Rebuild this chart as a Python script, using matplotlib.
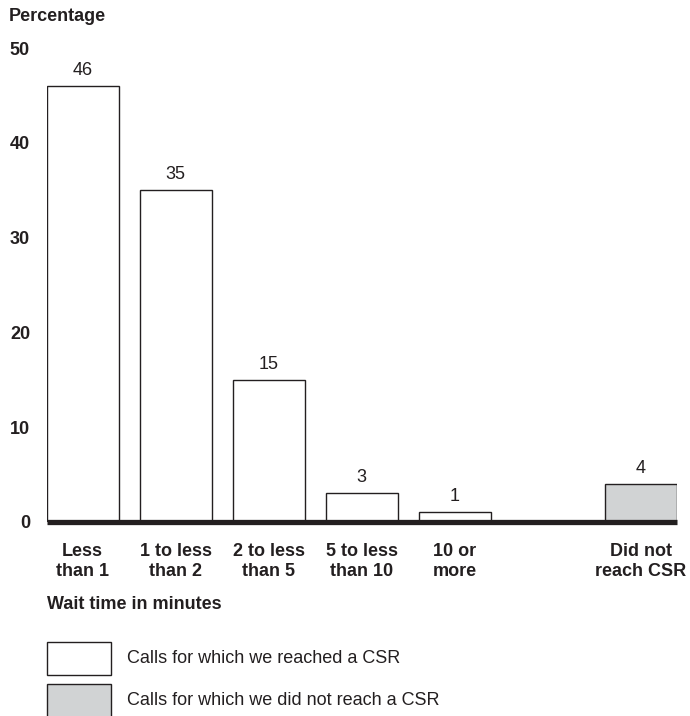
import matplotlib
matplotlib.use("Agg")
import matplotlib.pyplot as plt
from matplotlib.patches import Rectangle

plt.rcParams['font.family'] = ['Liberation Sans', 'DejaVu Sans']

categories = ["Less\nthan 1", "1 to less\nthan 2", "2 to less\nthan 5", "5 to less\nthan 10", "10 or\nmore", "", "Did not\nreach CSR"]
values = [46, 35, 15, 3, 1, None, 4]
reached = [True, True, True, True, True, None, False]
yticks = [0, 10, 20, 30, 40, 50]
legend_labels = ["Calls for which we reached a CSR", "Calls for which we did not reach a CSR"]

W, H = 690, 716
fig = plt.figure(figsize=(W / 100, H / 100), dpi=100)

def fx(px):
    return px / W

def fy(py):
    return 1 - py / H

ax_left, ax_right = 46.7, 676.7
ax_top, ax_bottom = 48.2, 521.7
ax = fig.add_axes([fx(ax_left), fy(ax_bottom), fx(ax_right - ax_left), (ax_bottom - ax_top) / H])

EDGE = '#231f20'
GRAY = '#d1d3d4'
FS = 13

for i, (v, r) in enumerate(zip(values, reached)):
    if v is None:
        continue
    ax.bar(i, v, width=0.774, color='white' if r else GRAY, edgecolor=EDGE, linewidth=1.0, zorder=2)
    ax.annotate(str(v), (i, v), xytext=(0, 5), textcoords='offset points',
                ha='center', va='bottom', fontsize=FS, color='#231f20')

ax.axhline(0, color=EDGE, linewidth=3.8, zorder=3, clip_on=False, solid_capstyle='butt')
ax.set_xlim(-0.387, 6.387)
ax.set_ylim(0, 50)
for s in ax.spines.values():
    s.set_visible(False)
ax.set_xticks([])
ax.set_yticks(yticks)
ax.set_yticklabels([str(t) for t in yticks], fontweight='bold', fontsize=FS, color='#231f20')
ax.tick_params(axis='y', length=0, pad=12)

# category labels
for i, c in enumerate(categories):
    if not c:
        continue
    xd = ax.transData.transform((i, 0))[0]
    fig.text(xd / fig.dpi / fig.get_figwidth(), fy(543), c, ha='center', va='top',
             fontsize=FS, fontweight='bold', color='#231f20', linespacing=1.2)

fig.text(fx(9), fy(8), "Percentage", ha='left', va='top', fontsize=FS, fontweight='bold', color='#231f20')
fig.text(fx(47), fy(596), "Wait time in minutes", ha='left', va='top', fontsize=FS, fontweight='bold', color='#231f20')

# legend
boxes = [(642, 'white'), (684, GRAY)]
for (top, col), lab in zip(boxes, legend_labels):
    rect = Rectangle((fx(46.7), fy(top + 33)), fx(111 - 46.7), 33 / H, transform=fig.transFigure,
                     facecolor=col, edgecolor=EDGE, linewidth=1.0, clip_on=False)
    fig.add_artist(rect)
    fig.text(fx(127), fy(top + 16.5), lab, ha='left', va='center', fontsize=FS, color='#231f20')

fig.savefig("out.png", dpi=100)
